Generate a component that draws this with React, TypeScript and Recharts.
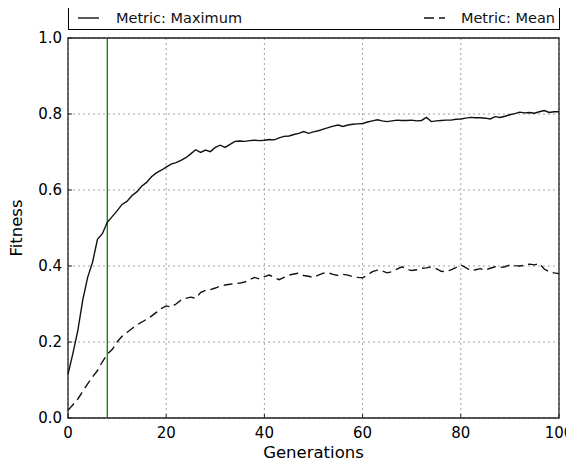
import React from "react";
import {
  LineChart,
  Line,
  XAxis,
  YAxis,
  CartesianGrid,
  ReferenceLine,
  ReferenceArea,
} from "recharts";

// fitness per generation (generation = index)
const maxFitness = [
  0.115, 0.17, 0.23, 0.31, 0.37, 0.41, 0.47, 0.485, 0.515, 0.53,
  0.545, 0.562, 0.57, 0.585, 0.595, 0.61, 0.62, 0.635, 0.645, 0.652,
  0.66, 0.668, 0.672, 0.678, 0.685, 0.695, 0.706, 0.699, 0.705, 0.701,
  0.712, 0.718, 0.712, 0.72, 0.728, 0.729, 0.728, 0.73, 0.731, 0.73,
  0.731, 0.733, 0.732, 0.737, 0.741, 0.742, 0.746, 0.749, 0.754, 0.749,
  0.753, 0.756, 0.76, 0.764, 0.768, 0.771, 0.767, 0.771, 0.773, 0.774,
  0.775, 0.779, 0.782, 0.785, 0.782, 0.78, 0.782, 0.784, 0.783, 0.783,
  0.784, 0.782, 0.783, 0.791, 0.78, 0.782, 0.783, 0.784, 0.784, 0.786,
  0.787, 0.789, 0.791, 0.79, 0.79, 0.789, 0.787, 0.793, 0.791, 0.794,
  0.798, 0.801, 0.805, 0.803, 0.804, 0.802, 0.806, 0.809, 0.804, 0.806,
  0.806,
];

const meanFitness = [
  0.02, 0.035, 0.05, 0.07, 0.09, 0.108, 0.125, 0.148, 0.168, 0.18,
  0.2, 0.215, 0.225, 0.235, 0.245, 0.252, 0.26, 0.268, 0.278, 0.288,
  0.295, 0.292, 0.3, 0.31, 0.315, 0.318, 0.315, 0.33, 0.336, 0.338,
  0.342, 0.347, 0.35, 0.352, 0.354, 0.355, 0.358, 0.364, 0.37, 0.366,
  0.372, 0.376, 0.37, 0.364, 0.37, 0.376, 0.379, 0.381, 0.375, 0.373,
  0.37, 0.376, 0.381, 0.382, 0.378, 0.375, 0.378, 0.376, 0.372, 0.37,
  0.369, 0.376, 0.385, 0.389, 0.387, 0.382, 0.385, 0.392, 0.398, 0.392,
  0.388, 0.39, 0.394, 0.395, 0.398, 0.393, 0.386, 0.385, 0.39, 0.396,
  0.403, 0.396, 0.388, 0.39, 0.393, 0.389, 0.394, 0.398, 0.396, 0.398,
  0.403, 0.401, 0.4, 0.402, 0.405, 0.403, 0.406, 0.392, 0.385, 0.382,
  0.38,
];

const xTicks = [0, 20, 40, 60, 80, 100];
const yTicks = [0, 0.2, 0.4, 0.6, 0.8, 1.0];
const markerGeneration = 8;

const data = maxFitness.map((v, i) => ({
  gen: i,
  max: v,
  mean: meanFitness[i],
}));

const font = "'DejaVu Sans', sans-serif";
const tickStyle = { fill: "#000", fontSize: 15, fontFamily: font };
const frame = "#222";

const LegendBox = () => (
  <div
    style={{
      position: "absolute",
      left: 60,
      top: -3,
      width: 492,
      height: 25,
      boxSizing: "border-box",
      border: "1px solid #000",
      background: "#fff",
      fontFamily: font,
      fontSize: 14.5,
      color: "#111",
      display: "flex",
      alignItems: "center",
      justifyContent: "space-between",
      padding: "0 4px 0 9px",
    }}
  >
    <div style={{ display: "flex", alignItems: "center" }}>
      <svg width={22} height={10}>
        <line x1={0} y1={5} x2={21} y2={5} stroke="#111" strokeWidth={1.4} />
      </svg>
      <span style={{ marginLeft: 16 }}>Metric: Maximum</span>
    </div>
    <div style={{ display: "flex", alignItems: "center" }}>
      <svg width={22} height={10}>
        <line
          x1={0}
          y1={5}
          x2={21}
          y2={5}
          stroke="#111"
          strokeWidth={1.4}
          strokeDasharray="10 5"
        />
      </svg>
      <span style={{ marginLeft: 15 }}>Metric: Mean</span>
    </div>
  </div>
);

const App = () => {
  return (
    <div style={{ position: "relative", width: 566, height: 455 }}>
      <LineChart
        width={566}
        height={455}
        data={data}
        margin={{ top: 30, right: 15, bottom: 0, left: 0 }}
      >
        <CartesianGrid
          stroke="#888"
          strokeDasharray="2 3"
          strokeWidth={0.8}
          horizontalValues={yTicks}
          verticalValues={xTicks}
        />
        <XAxis
          dataKey="gen"
          type="number"
          domain={[0, 100]}
          ticks={xTicks}
          axisLine={false}
          tickLine={{ stroke: frame }}
          tickSize={-4}
          tickMargin={13}
          height={45}
          tick={tickStyle}
          label={{
            value: "Generations",
            position: "insideBottom",
            offset: 5,
            fill: "#000",
            fontSize: 16.5,
            fontFamily: font,
          }}
        />
        <XAxis
          xAxisId="top"
          orientation="top"
          dataKey="gen"
          type="number"
          domain={[0, 100]}
          ticks={xTicks}
          axisLine={false}
          tickLine={{ stroke: frame }}
          tickSize={-4}
          tickFormatter={() => ""}
          height={0}
        />
        <YAxis
          type="number"
          domain={[0, 1]}
          ticks={yTicks}
          width={60}
          axisLine={false}
          tickLine={{ stroke: frame }}
          tickSize={-4}
          tickMargin={10}
          tickFormatter={(v: number) => v.toFixed(1)}
          tick={tickStyle}
          label={{
            value: "Fitness",
            angle: -90,
            position: "insideLeft",
            offset: 8,
            fill: "#000",
            fontSize: 16.5,
            fontFamily: font,
            style: { textAnchor: "middle" },
          }}
        />
        <YAxis
          yAxisId="right"
          orientation="right"
          type="number"
          domain={[0, 1]}
          ticks={yTicks}
          width={0}
          axisLine={false}
          tickLine={{ stroke: frame }}
          tickSize={-4}
          tickFormatter={() => ""}
        />
        <ReferenceLine
          x={markerGeneration}
          stroke="#008000"
          strokeWidth={1.3}
        />
        <Line
          type="linear"
          dataKey="max"
          stroke="#111"
          strokeWidth={1.4}
          dot={false}
          isAnimationActive={false}
        />
        <Line
          type="linear"
          dataKey="mean"
          stroke="#111"
          strokeWidth={1.4}
          strokeDasharray="9 5"
          dot={false}
          isAnimationActive={false}
        />
        <ReferenceArea
          x1={0}
          x2={100}
          y1={0}
          y2={1}
          fill="none"
          stroke={frame}
          strokeWidth={1.3}
        />
      </LineChart>
      <LegendBox />
    </div>
  );
};

export default App;
